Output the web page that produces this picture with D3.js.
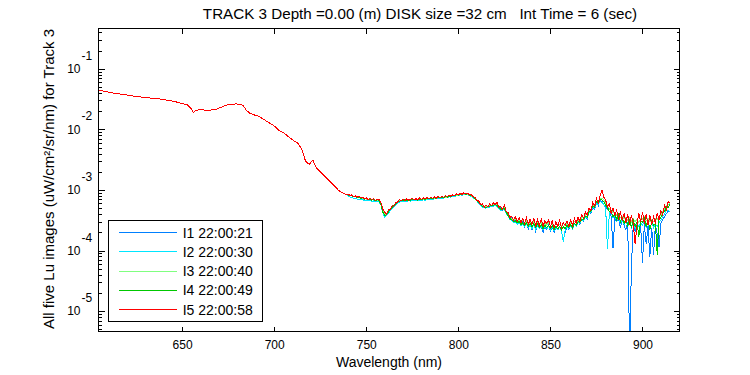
<!DOCTYPE html>
<html>
<head>
<meta charset="utf-8">
<script src="https://cdn.jsdelivr.net/npm/d3@7"></script>
<style>
body { margin: 0; background: #fff; }
svg text { font-family: "Liberation Sans", Arial, sans-serif; fill: #000; }
</style>
</head>
<body>
<div id="chart"></div>
<script>
// smooth part of the spectrum, same for all five images
var headWl = [605,607,609,611,613,615,617,619,621,623,625,627,629,631,633,635,637,639,641,643,
  645,647,649,651,653,655,656,657,659,661,663,665,667,669,671,673,675,677,679,681,
  683,685,687,689,691,693,695,697,699,701,703,705,707,709,711,713,715,717,719,721,
  723,725,727,729,731,733,735,737,739];
var headLu = [4.41e-2,4.30e-2,4.18e-2,4.07e-2,3.97e-2,3.88e-2,3.80e-2,3.73e-2,3.65e-2,3.57e-2,
  3.50e-2,3.44e-2,3.39e-2,3.34e-2,3.29e-2,3.25e-2,3.20e-2,3.14e-2,3.07e-2,3.00e-2,
  2.93e-2,2.83e-2,2.72e-2,2.62e-2,2.53e-2,2.20e-2,1.89e-2,2.00e-2,2.12e-2,2.10e-2,
  2.08e-2,2.08e-2,2.10e-2,2.18e-2,2.30e-2,2.45e-2,2.56e-2,2.60e-2,2.63e-2,2.61e-2,
  2.50e-2,2.05e-2,1.83e-2,1.74e-2,1.67e-2,1.55e-2,1.42e-2,1.30e-2,1.20e-2,1.08e-2,
  9.4e-3,8.9e-3,7.9e-3,7.1e-3,6.4e-3,5.9e-3,4.7e-3,3.0e-3,2.65e-3,3.1e-3,
  2.3e-3,2.0e-3,1.75e-3,1.5e-3,1.32e-3,1.15e-3,9.8e-4,9.0e-4,8.5e-4];

// noisy part, 740..915 nm every 1 nm, values in 1e-4 uW/cm2/sr/nm
var tailWl = d3.range(740, 916);
var i1Tail = [8.5,8.1,8.2,7.8,7.9,7.5,7.8,7.3,7.5,7.1, 7.3,6.9,7.2,6.8,7.1,6.7,7.0,6.8,6.0,4.6,
  4.1,3.9,4.6,4.7,5.4,5.4,6.1,6.2,6.8,6.5, 7.0,6.6,7.1,6.7,7.0,7.2,6.7,7.1,6.8,7.3,
  6.9,7.3,7.0,7.5,7.1,7.5,7.2,7.7,7.2,7.7, 7.4,7.8,7.5,8.0,7.6,8.2,7.8,8.3,8.0,8.5,
  8.2,8.7,8.4,8.9,8.6,8.8,8.2,8.3,7.6,7.5, 6.7,6.6,5.7,5.8,5.1,5.5,5.2,5.7,5.4,5.9,
  5.5,6.4,5.0,5.1,4.6,5.4,4.2,4.1,3.4,3.5, 3.0,3.4,2.8,3.2,2.6,3.1,2.5,3.0,2.3,2.9,
  2.2,2.8,2.1,2.7,2.3,2.6,2.0,2.5,2.2,2.6, 2.1,2.5,2.0,2.4,2.2,2.5,2.1,1.5,2.0,2.5,
  2.2,2.6,2.3,2.8,2.5,3.0,2.7,3.3,3.0,3.7, 3.3,4.3,4.1,5.3,4.8,6.2,5.5,6.9,6.3,6.6,
  5.4,4.7,4.5,3.6,1.1,3.4,3.0,3.3,2.4,3.2, 2.6,2.2,2.9,0.02,0.56,2.7,2.1,2.8,1.8,2.6,
  0.62,2.7,1.3,2.5,0.8,2.4,0.85,2.6,1.9,1.15, 2.8,3.3,3.6,4.1,4.5,4.3];
var i2Tail = [8.0,7.7,7.6,7.3,7.4,7.1,7.1,6.9,7.0,6.7, 6.8,6.6,6.7,6.4,6.6,6.4,6.6,6.4,5.6,4.2,
  3.6,3.8,4.1,4.6,4.9,5.3,5.6,6.0,6.3,6.4, 6.4,6.6,6.5,6.7,6.5,6.8,6.6,6.8,6.6,6.8,
  6.7,6.9,6.8,7.0,6.9,7.1,7.0,7.2,7.1,7.3, 7.1,7.4,7.3,7.5,7.4,7.7,7.6,7.9,7.8,8.1,
  8.0,8.3,8.2,8.5,8.3,8.4,8.0,7.9,7.4,7.1, 6.6,6.1,5.7,5.2,5.1,5.0,5.2,5.2,5.4,5.4,
  5.6,5.4,5.0,4.6,4.7,4.8,4.1,3.7,3.3,3.1, 2.9,3.0,2.7,2.9,2.6,2.8,2.5,2.8,2.4,2.7,
  2.3,2.7,2.2,2.6,2.3,2.6,2.2,2.5,2.3,2.5, 2.2,2.5,2.1,2.4,2.2,2.4,2.1,1.4,2.2,2.5,
  2.3,2.6,2.3,2.7,2.5,2.9,2.8,3.2,3.1,3.6, 3.4,4.2,4.3,5.2,5.0,6.0,5.7,6.6,6.2,5.8,
  5.0,1.05,4.2,4.3,3.5,3.8,3.1,3.6,2.8,3.3, 2.7,3.1,2.5,3.0,2.4,2.9,2.3,2.8,2.5,2.9,
  2.6,3.0,2.4,2.9,2.3,2.8,2.4,2.7,2.5,2.9, 3.2,3.7,4.0,4.6,4.6,4.4];
var i3Tail = [8.4,8.1,8.0,7.8,7.8,7.6,7.5,7.4,7.3,7.2, 7.1,7.0,7.0,6.9,6.9,6.8,6.8,6.7,5.9,4.5,
  3.9,4.1,4.4,4.8,5.2,5.5,5.9,6.3,6.6,6.7, 6.7,6.7,6.8,6.8,6.8,6.9,6.9,6.9,6.9,7.0,
  7.0,7.0,7.1,7.1,7.2,7.2,7.3,7.3,7.4,7.4, 7.5,7.5,7.6,7.6,7.7,7.8,7.9,8.0,8.1,8.2,
  8.3,8.4,8.5,8.6,8.6,8.5,8.3,8.0,7.7,7.3, 6.9,6.4,5.9,5.5,5.3,5.3,5.4,5.5,5.6,5.7,
  5.8,5.7,5.3,4.9,4.9,5.1,4.5,3.9,3.5,3.3, 3.2,3.4,3.0,3.3,2.9,3.2,2.8,3.1,2.7,3.0,
  2.8,3.0,2.6,2.9,2.7,2.9,2.5,2.8,2.6,2.9, 2.6,2.8,2.5,2.8,2.5,2.7,2.5,2.8,2.6,2.8,
  2.6,2.9,2.7,3.0,2.9,3.2,3.1,3.5,3.5,3.9, 3.9,4.6,4.8,5.6,5.7,6.5,6.4,7.2,7.2,7.0,
  6.1,5.4,4.9,4.6,4.2,4.3,3.8,3.9,3.5,3.7, 3.3,3.6,3.2,3.5,3.0,3.4,3.0,3.3,2.9,3.4,
  3.3,3.6,3.1,3.4,3.0,3.3,3.0,3.4,3.2,3.6, 3.8,4.5,4.8,5.5,5.7,6.0];
var i4Tail = [8.3,8.0,8.1,7.7,7.9,7.5,7.7,7.3,7.5,7.1, 7.2,6.9,7.1,6.8,7.0,6.7,6.9,6.6,5.7,4.3,
  3.8,3.9,4.3,4.8,5.1,5.5,5.8,6.3,6.5,6.7, 6.6,6.9,6.7,7.0,6.7,7.1,6.8,7.1,6.8,7.0,
  7.0,7.2,6.9,7.3,7.1,7.4,7.2,7.5,7.3,7.6, 7.4,7.7,7.5,7.8,7.6,8.0,7.8,8.2,8.0,8.4,
  8.2,8.6,8.4,8.8,8.5,8.7,8.2,8.2,7.6,7.3, 6.8,6.3,5.9,5.4,5.2,5.1,5.3,5.4,5.6,5.5,
  5.8,5.5,5.2,4.8,4.9,4.9,4.3,3.8,3.4,3.2, 3.0,3.1,2.9,3.0,2.7,2.9,2.6,2.9,2.5,2.8,
  2.5,2.8,2.4,2.7,2.4,2.7,2.3,2.6,2.4,2.6, 2.3,2.6,2.2,2.5,2.3,2.5,2.2,2.5,2.3,2.6,
  2.4,2.7,2.4,2.8,2.6,3.0,2.9,3.3,3.2,3.7, 3.6,4.4,4.5,5.5,5.2,6.4,6.0,7.1,6.8,6.5,
  5.6,5.2,4.4,4.5,3.6,4.1,3.2,3.9,3.0,3.5, 2.8,3.4,2.6,3.3,2.4,3.2,2.5,3.0,1.7,3.1,
  2.9,3.4,2.5,3.2,2.2,3.0,2.6,2.8,0.85,3.3, 3.5,4.2,4.4,5.3,5.2,5.8];
var i5Tail = [8.6,8.2,8.3,7.8,8.0,7.6,7.9,7.4,7.6,7.2, 7.4,7.0,7.3,6.9,7.2,6.8,7.1,6.9,6.2,4.8,
  4.3,4.0,4.7,4.8,5.5,5.4,6.2,6.3,6.9,6.6, 7.1,6.7,7.2,6.8,7.0,7.3,6.8,7.2,6.9,7.4,
  7.0,7.4,7.1,7.5,7.2,7.6,7.3,7.7,7.3,7.8, 7.5,7.9,7.6,8.0,7.7,8.2,7.9,8.3,8.1,8.6,
  8.3,8.8,8.5,9.0,8.6,8.9,8.3,8.4,7.7,7.6, 6.8,6.7,5.8,5.9,5.2,5.7,5.3,5.9,5.5,6.2,
  5.7,6.3,5.2,5.4,4.8,5.6,4.4,4.3,3.5,3.7, 3.2,3.6,3.0,3.5,2.9,3.4,2.8,3.5,2.7,3.3,
  2.7,3.4,2.6,3.2,2.6,3.3,2.5,3.1,2.8,3.2, 2.5,3.1,2.4,3.0,2.5,3.2,2.4,2.9,2.6,3.1,
  2.5,3.2,2.6,3.4,2.8,3.6,3.0,3.9,3.4,4.3, 3.8,5.0,4.6,6.2,5.4,7.3,6.1,8.2,9.9,7.6,
  6.8,5.2,5.9,4.1,5.0,3.8,4.6,3.4,4.3,3.2, 4.1,2.9,4.0,2.7,3.8,2.8,1.3,2.6,4.2,3.0,
  4.3,2.8,4.0,2.6,3.9,2.7,3.6,2.9,4.1,3.2, 4.6,3.9,5.6,4.8,6.5,6.2];

var seriesNames = ["I1 22:00:21", "I2 22:00:30", "I3 22:00:40", "I4 22:00:49", "I5 22:00:58"];
var seriesColors = ["#0080ff", "#00e6ff", "#80ff80", "#00c800", "#ff0000"];
var seriesTails = [i1Tail, i2Tail, i3Tail, i4Tail, i5Tail];

var xTicks = [650, 700, 750, 800, 850, 900];
var yMajor = [1e-1, 1e-2, 1e-3, 1e-4, 1e-5];
var yMajorExp = ["-1", "-2", "-3", "-4", "-5"];

var titleText = "TRACK 3 Depth =0.00 (m) DISK size =32 cm   Int Time = 6 (sec)";

function init() {
    var w = 750, h = 375;
    var left = 98.5, right = 679.5, top = 28.5, bottom = 331.5;

    var svg = d3.select("#chart").append("svg")
        .attr("width", w)
        .attr("height", h);

    var xScale = d3.scaleLinear().domain([604.6, 920.1]).range([left, right]);
    var yScale = d3.scaleLog()
        .domain([Math.pow(10, -5.335), Math.pow(10, -0.335)])
        .range([bottom, top]);

    svg.append("clipPath").attr("id", "plotClip")
        .append("rect")
        .attr("x", left).attr("y", top)
        .attr("width", right - left).attr("height", bottom - top);

    // build series
    var series = seriesTails.map(function(tail, k) {
        var pts = headWl.map(function(x, i) { return { wl: x, v: headLu[i] }; });
        tailWl.forEach(function(x, i) { pts.push({ wl: x, v: tail[i] * 1e-4 }); });
        return { name: seriesNames[k], color: seriesColors[k], values: pts };
    });

    var line = d3.line()
        .x(function(d) { return xScale(d.wl); })
        .y(function(d) { return yScale(d.v); });

    svg.append("g").attr("clip-path", "url(#plotClip)")
        .selectAll("path")
        .data(series)
        .enter()
        .append("path")
        .attr("d", function(d) { return line(d.values); })
        .attr("fill", "none")
        .attr("stroke", function(d) { return d.color; })
        .attr("stroke-width", 1)
        .attr("shape-rendering", "crispEdges");

    // frame
    svg.append("rect")
        .attr("x", left).attr("y", top)
        .attr("width", right - left).attr("height", bottom - top)
        .attr("fill", "none").attr("stroke", "#000").attr("stroke-width", 1)
        .attr("shape-rendering", "crispEdges");

    //x axis ticks (inward, top and bottom)
    var xAxis = d3.axisBottom(xScale).tickValues(xTicks).tickSize(-5).tickPadding(9)
        .tickFormat(d3.format("d"));
    var gx = svg.append("g").attr("transform", "translate(0," + bottom + ")").call(xAxis);
    gx.select(".domain").remove();
    gx.selectAll("text").style("font-size", "12px").attr("font-family", null);

    var gxt = svg.append("g").attr("transform", "translate(0," + top + ")")
        .call(d3.axisTop(xScale).tickValues(xTicks).tickSize(-5).tickFormat(""));
    gxt.select(".domain").remove();

    //y axis ticks, major and minor, both sides
    var yMinor = yScale.ticks().filter(function(v) {
        return yMajor.every(function(m) { return Math.abs(v / m - 1) > 1e-6; });
    });
    [[d3.axisLeft, left], [d3.axisRight, right]].forEach(function(a) {
        var g1 = svg.append("g").attr("transform", "translate(" + a[1] + ",0)")
            .call(a[0](yScale).tickValues(yMinor).tickSize(-3).tickFormat(""));
        g1.select(".domain").remove();
        var g2 = svg.append("g").attr("transform", "translate(" + a[1] + ",0)")
            .call(a[0](yScale).tickValues(yMajor).tickSize(-6).tickFormat(""));
        g2.select(".domain").remove();
    });
    svg.selectAll(".tick line").attr("shape-rendering", "crispEdges");

    //y tick labels 10^n
    var yl = svg.append("g").selectAll("g").data(yMajor).enter().append("g");
    yl.append("text")
        .attr("x", 80.5)
        .attr("y", function(d) { return yScale(d) + 4.3; })
        .attr("text-anchor", "end")
        .style("font-size", "12px")
        .text("10");
    yl.append("text")
        .attr("x", 81.5)
        .attr("y", function(d) { return yScale(d) - 9; })
        .style("font-size", "12px")
        .text(function(d, i) { return yMajorExp[i]; });

    //title
    svg.append("text")
        .attr("x", 420)
        .attr("y", 18.5)
        .attr("text-anchor", "middle")
        .attr("xml:space", "preserve")
        .style("white-space", "pre")
        .style("font-size", "15.2px")
        .text(titleText);

    //x axis label
    svg.append("text")
        .attr("x", 389)
        .attr("y", 367)
        .attr("text-anchor", "middle")
        .style("font-size", "14px")
        .text("Wavelength (nm)");

    //y axis label
    svg.append("text")
        .attr("transform", "translate(54,179) rotate(-90)")
        .attr("text-anchor", "middle")
        .style("font-size", "15px")
        .text("All five Lu images (uW/cm\u00b2/sr/nm) for Track 3");

    //legend
    var legend = svg.append("g");
    legend.append("rect")
        .attr("x", 108.5).attr("y", 220.5)
        .attr("width", 154).attr("height", 101)
        .attr("fill", "#fff").attr("stroke", "#000")
        .attr("shape-rendering", "crispEdges");
    var rows = legend.selectAll(".row").data(series).enter().append("g")
        .attr("class", "row")
        .attr("transform", function(d, i) { return "translate(0," + (232.5 + i * 19.25) + ")"; });
    rows.append("line")
        .attr("x1", 119).attr("x2", 177)
        .attr("y1", 0).attr("y2", 0)
        .attr("stroke", function(d) { return d.color; })
        .attr("shape-rendering", "crispEdges");
    rows.append("text")
        .attr("x", 182.7)
        .attr("y", 5)
        .style("font-size", "14px")
        .text(function(d) { return d.name; });
}

window.onload = init;
</script>
</body>
</html>
